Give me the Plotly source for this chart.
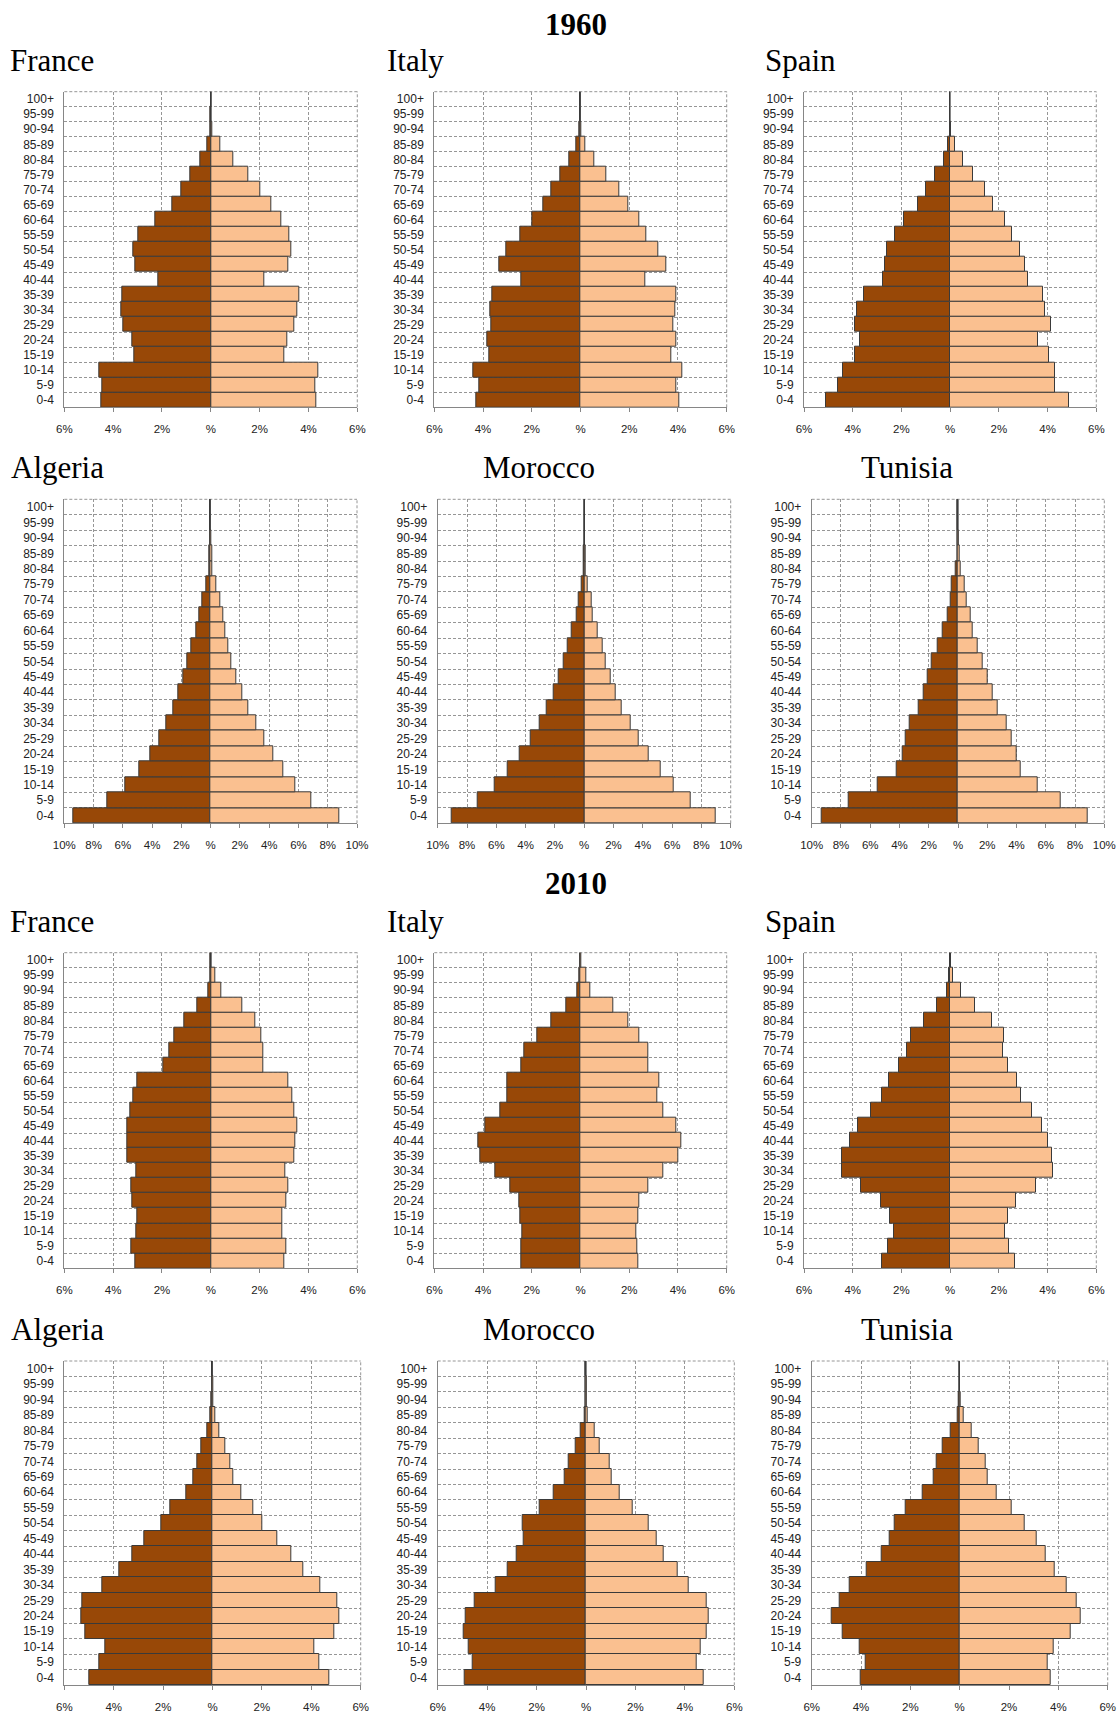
import plotly.graph_objects as go

# Age groups, bottom to top
age_groups = ["0-4", "5-9", "10-14", "15-19", "20-24", "25-29", "30-34", "35-39",
              "40-44", "45-49", "50-54", "55-59", "60-64", "65-69", "70-74",
              "75-79", "80-84", "85-89", "90-94", "95-99", "100+"]

# Share of total population (%) by age group, males / females
france_1960_male = [4.48, 4.44, 4.55, 3.12, 3.23, 3.57, 3.65, 3.61, 2.16, 3.08, 3.16,
                    2.97, 2.29, 1.58, 1.22, 0.85, 0.45, 0.15, 0.04, 0.01, 0.0]
france_1960_female = [4.33, 4.27, 4.40, 3.02, 3.12, 3.43, 3.56, 3.64, 2.20, 3.16, 3.31,
                      3.20, 2.90, 2.47, 2.03, 1.54, 0.92, 0.38, 0.08, 0.02, 0.0]
italy_1960_male = [4.27, 4.14, 4.40, 3.74, 3.82, 3.67, 3.70, 3.63, 2.42, 3.33, 3.05,
                   2.47, 1.97, 1.52, 1.21, 0.82, 0.45, 0.16, 0.04, 0.01, 0.0]
italy_1960_female = [4.05, 3.95, 4.19, 3.71, 3.95, 3.82, 3.90, 3.95, 2.67, 3.53, 3.19,
                     2.71, 2.40, 1.97, 1.60, 1.07, 0.56, 0.21, 0.05, 0.01, 0.0]
spain_1960_male = [5.08, 4.62, 4.38, 3.92, 3.70, 3.92, 3.84, 3.55, 2.77, 2.68, 2.58,
                   2.26, 1.88, 1.34, 1.00, 0.63, 0.26, 0.08, 0.02, 0.01, 0.0]
spain_1960_female = [4.88, 4.30, 4.30, 4.04, 3.60, 4.12, 3.89, 3.81, 3.19, 3.08, 2.88,
                     2.53, 2.27, 1.77, 1.42, 0.93, 0.52, 0.19, 0.05, 0.01, 0.0]
algeria_1960_male = [9.36, 7.09, 5.84, 4.86, 4.09, 3.52, 3.02, 2.57, 2.18, 1.86, 1.61,
                     1.30, 0.95, 0.77, 0.59, 0.27, 0.08, 0.06, 0.02, 0.0, 0.0]
algeria_1960_female = [8.80, 6.89, 5.80, 4.95, 4.30, 3.68, 3.11, 2.59, 2.16, 1.77, 1.43,
                       1.18, 1.02, 0.89, 0.68, 0.36, 0.12, 0.08, 0.05, 0.0, 0.0]
morocco_1960_male = [9.07, 7.27, 6.11, 5.23, 4.41, 3.64, 3.07, 2.55, 2.11, 1.73, 1.39,
                     1.11, 0.84, 0.52, 0.36, 0.14, 0.06, 0.05, 0.0, 0.0, 0.0]
morocco_1960_female = [9.00, 7.30, 6.14, 5.25, 4.41, 3.70, 3.14, 2.59, 2.18, 1.84, 1.48,
                       1.23, 0.95, 0.61, 0.50, 0.25, 0.11, 0.07, 0.0, 0.0, 0.0]
tunisia_1960_male = [9.29, 7.45, 5.47, 4.17, 3.78, 3.60, 3.28, 2.69, 2.37, 2.10, 1.80,
                     1.37, 1.02, 0.71, 0.52, 0.46, 0.14, 0.05, 0.05, 0.0, 0.0]
tunisia_1960_female = [8.88, 7.04, 5.42, 4.26, 4.03, 3.69, 3.33, 2.69, 2.35, 2.05, 1.66,
                       1.32, 1.02, 0.84, 0.57, 0.48, 0.16, 0.11, 0.06, 0.0, 0.0]

france_2010_male = [3.11, 3.24, 3.07, 3.03, 3.20, 3.24, 3.07, 3.42, 3.42, 3.42, 3.28,
                    3.16, 3.03, 1.96, 1.71, 1.51, 1.08, 0.56, 0.11, 0.03, 0.02]
france_2010_female = [3.02, 3.11, 2.94, 2.94, 3.09, 3.16, 3.05, 3.43, 3.47, 3.55, 3.43,
                      3.35, 3.18, 2.17, 2.13, 2.07, 1.82, 1.28, 0.43, 0.19, 0.04]
italy_2010_male = [2.45, 2.42, 2.37, 2.49, 2.53, 2.90, 3.51, 4.12, 4.21, 3.89, 3.30,
                   3.00, 3.00, 2.45, 2.30, 1.77, 1.19, 0.60, 0.15, 0.03, 0.02]
italy_2010_female = [2.36, 2.32, 2.27, 2.36, 2.41, 2.77, 3.38, 4.01, 4.12, 3.92, 3.38,
                     3.14, 3.22, 2.77, 2.77, 2.41, 1.96, 1.34, 0.42, 0.22, 0.04]
spain_2010_male = [2.81, 2.56, 2.30, 2.49, 2.85, 3.66, 4.45, 4.45, 4.12, 3.77, 3.25,
                   2.81, 2.53, 2.10, 1.78, 1.62, 1.08, 0.55, 0.15, 0.04, 0.02]
spain_2010_female = [2.66, 2.42, 2.25, 2.38, 2.70, 3.52, 4.23, 4.19, 4.01, 3.78, 3.36,
                     2.92, 2.74, 2.38, 2.16, 2.21, 1.70, 1.04, 0.44, 0.12, 0.03]
algeria_2010_male = [4.99, 4.59, 4.34, 5.14, 5.32, 5.26, 4.46, 3.77, 3.24, 2.76, 2.07,
                     1.69, 1.07, 0.77, 0.61, 0.45, 0.20, 0.07, 0.05, 0.01, 0.0]
algeria_2010_female = [4.74, 4.34, 4.12, 4.92, 5.12, 5.04, 4.35, 3.66, 3.18, 2.64, 2.00,
                       1.66, 1.16, 0.85, 0.74, 0.53, 0.28, 0.11, 0.04, 0.03, 0.0]
morocco_2010_male = [4.89, 4.58, 4.74, 4.96, 4.88, 4.50, 3.65, 3.18, 2.80, 2.53, 2.57,
                     1.89, 1.32, 0.85, 0.72, 0.43, 0.22, 0.07, 0.03, 0.01, 0.0]
morocco_2010_female = [4.76, 4.47, 4.64, 4.88, 4.97, 4.88, 4.14, 3.69, 3.16, 2.85, 2.55,
                       1.88, 1.36, 1.03, 0.95, 0.57, 0.34, 0.08, 0.04, 0.03, 0.0]
tunisia_2010_male = [4.00, 3.80, 4.04, 4.74, 5.18, 4.88, 4.45, 3.76, 3.18, 2.85, 2.62,
                     2.20, 1.49, 1.04, 0.92, 0.68, 0.35, 0.09, 0.03, 0.0, 0.0]
tunisia_2010_female = [3.70, 3.58, 3.80, 4.49, 4.92, 4.73, 4.32, 3.84, 3.50, 3.11, 2.65,
                       2.12, 1.51, 1.15, 1.07, 0.76, 0.47, 0.15, 0.04, 0.0, 0.0]

# Axis tick labels (both halves read as positive shares)
ticks_6 = [-6, -4, -2, 0, 2, 4, 6]
ticks_6_text = ["6%", "4%", "2%", "%", "2%", "4%", "6%"]
ticks_10 = [-10, -8, -6, -4, -2, 0, 2, 4, 6, 8, 10]
ticks_10_text = ["10%", "8%", "6%", "4%", "2%", "%", "2%", "4%", "6%", "8%", "10%"]

years = ["1960", "2010"]

W, H = 1120, 1713
MALE = "#984807"
FEMALE = "#FAC090"
OUTLINE = "#3a3a3a"
GRID = "#969696"
AXIS = "#868686"
SERIF = "Liberation Serif, Times New Roman, serif"
SANS = "Liberation Sans, Arial, sans-serif"

# (title, male, female, x limit, plot box in px: x0, x1, y0, y1, title centre in px)
panels = [
    ("France", france_1960_male, france_1960_female, 6, (64.3, 357.3, 91.7, 407.3), (52, 60)),
    ("Italy", italy_1960_male, italy_1960_female, 6, (434.3, 726.7, 91.7, 407.3), (415, 60)),
    ("Spain", spain_1960_male, spain_1960_female, 6, (804.0, 1096.3, 91.7, 407.3), (800.5, 60)),
    ("Algeria", algeria_1960_male, algeria_1960_female, 10, (64.3, 357.0, 499.3, 823.3), (57, 468)),
    ("Morocco", morocco_1960_male, morocco_1960_female, 10, (437.7, 730.7, 499.3, 823.3), (538.7, 468)),
    ("Tunisia", tunisia_1960_male, tunisia_1960_female, 10, (811.7, 1104.3, 499.3, 823.3), (907.3, 468)),
    ("France", france_2010_male, france_2010_female, 6, (64.3, 357.3, 952.7, 1268.3), (52, 921)),
    ("Italy", italy_2010_male, italy_2010_female, 6, (434.3, 726.7, 952.7, 1268.3), (415, 921)),
    ("Spain", spain_2010_male, spain_2010_female, 6, (804.0, 1096.3, 952.7, 1268.3), (800.5, 921)),
    ("Algeria", algeria_2010_male, algeria_2010_female, 6, (64.3, 360.7, 1361.0, 1685.3), (57, 1329)),
    ("Morocco", morocco_2010_male, morocco_2010_female, 6, (437.7, 734.3, 1361.0, 1685.3), (538.7, 1329)),
    ("Tunisia", tunisia_2010_male, tunisia_2010_female, 6, (811.7, 1107.7, 1361.0, 1685.3), (907.3, 1329)),
]

fig = go.Figure()
layout = dict(
    width=W, height=H,
    margin=dict(l=0, r=0, t=0, b=0, pad=0),
    paper_bgcolor="white", plot_bgcolor="white",
    showlegend=False, barmode="overlay", bargap=0,
)
annotations = []
shapes = []

for i, (name, male, female, lim, box, title) in enumerate(panels, start=1):
    sfx = "" if i == 1 else str(i)
    xa, ya = "x" + sfx, "y" + sfx
    x0, x1, y0, y1 = box

    fig.add_trace(go.Bar(
        y=age_groups, x=[-v for v in male], orientation="h",
        marker=dict(color=MALE, line=dict(color=OUTLINE, width=1)),
        xaxis=xa, yaxis=ya, name="Male", hoverinfo="skip",
    ))
    fig.add_trace(go.Bar(
        y=age_groups, x=female, orientation="h",
        marker=dict(color=FEMALE, line=dict(color=OUTLINE, width=1)),
        xaxis=xa, yaxis=ya, name="Female", hoverinfo="skip",
    ))

    tv, tt = (ticks_6, ticks_6_text) if lim == 6 else (ticks_10, ticks_10_text)
    layout["xaxis" + sfx] = dict(
        domain=[x0 / W, x1 / W], anchor=ya, range=[-lim, lim],
        automargin=False,
        tickmode="array", tickvals=tv, ticktext=tt,
        showgrid=True, gridcolor=GRID, gridwidth=1, griddash="3px,2px",
        zeroline=True, zerolinecolor=AXIS, zerolinewidth=1,
        showline=True, linecolor=AXIS, linewidth=1,
        ticks="outside", ticklen=4, tickcolor=AXIS,
        ticklabelstandoff=7,
        tickfont=dict(family=SANS, size=11.5, color="#222222"),
        fixedrange=True,
    )
    layout["yaxis" + sfx] = dict(
        domain=[1 - y1 / H, 1 - y0 / H], anchor=xa,
        automargin=False,
        type="category", categoryorder="array", categoryarray=age_groups,
        range=[-0.5, len(age_groups) - 0.5],
        tickson="boundaries",
        showgrid=True, gridcolor=GRID, gridwidth=1, griddash="3px,2px",
        showline=True, linecolor=AXIS, linewidth=1,
        ticks="outside", ticklen=4, tickcolor="rgba(0,0,0,0)",
        ticklabelstandoff=7,
        tickfont=dict(family=SANS, size=12, color="#222222"),
        fixedrange=True,
    )

    # dashed frame on the top and right edges of each plot
    for sx0, sy0, sx1, sy1 in [(0, 1, 1, 1), (1, 0, 1, 1)]:
        shapes.append(dict(
            type="line", xref=xa + " domain", yref=ya + " domain",
            x0=sx0, y0=sy0, x1=sx1, y1=sy1,
            line=dict(color=GRID, width=1, dash="3px,2px"), layer="below",
        ))

    tx, ty = title
    annotations.append(dict(
        text=name, xref="paper", yref="paper",
        x=tx / W, y=1 - ty / H, xanchor="center", yanchor="middle",
        showarrow=False, font=dict(family=SERIF, size=31, color="black"),
    ))

# Year headings
for year, ty in zip(years, [24, 883]):
    annotations.append(dict(
        text="<b>" + year + "</b>", xref="paper", yref="paper",
        x=576 / W, y=1 - ty / H, xanchor="center", yanchor="middle",
        showarrow=False, font=dict(family=SERIF, size=31, color="black"),
    ))

layout["annotations"] = annotations
layout["shapes"] = shapes
fig.update_layout(**layout)

fig.write_html("out.html")
